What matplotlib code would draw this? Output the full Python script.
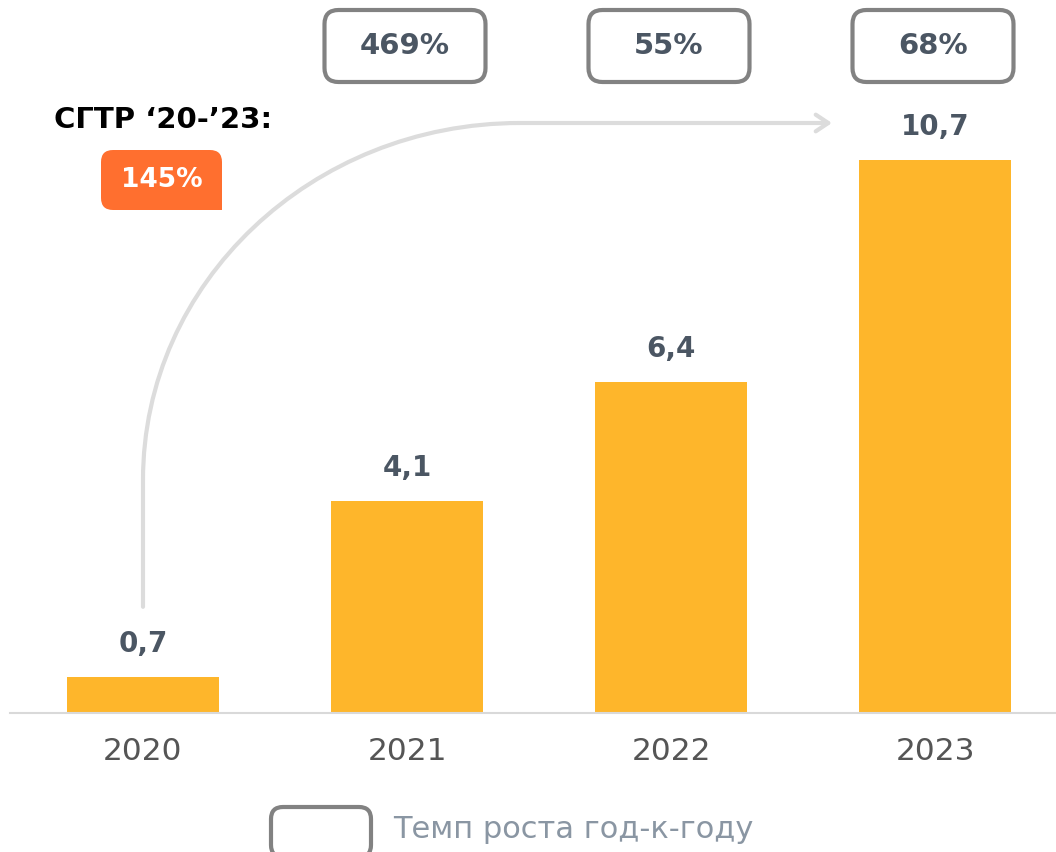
import matplotlib
matplotlib.use("Agg")
import matplotlib.pyplot as plt
from matplotlib.patches import FancyBboxPatch, Rectangle, FancyArrowPatch
from matplotlib.path import Path

plt.rcParams['font.family'] = ['DejaVu Sans']

years = ['2020', '2021', '2022', '2023']
values = [0.7, 4.1, 6.4, 10.7]
value_labels = ['0,7', '4,1', '6,4', '10,7']
yoy_labels = ['469%', '55%', '68%']
cagr_title = 'СГТР ‘20-’23:'
cagr_value = '145%'
legend_text = 'Темп роста год-к-году'

bar_color = '#FEB62B'
label_color = '#4B5663'
box_edge = '#828282'
orange = '#FF6F2F'
arrow_color = '#DCDCDC'

W, H = 1056, 852
fig = plt.figure(figsize=(W / 100, H / 100), dpi=100)
ax = fig.add_axes([10 / W, 139 / H, 1046 / W, 713 / H])

px_x = 264.0   # pixels per x unit
px_y = 51.7    # pixels per y unit
ax.set_xlim(-133 / px_x, 913 / px_x)
ax.set_ylim(0, 713 / px_y)
aspect = px_x / px_y

x = list(range(len(years)))
ax.bar(x, values, width=152 / px_x, color=bar_color, zorder=2)

for xi, v, lab in zip(x, values, value_labels):
    ax.text(xi, v + 33 / px_y, lab, ha='center', va='center', fontsize=20,
            fontweight='bold', color=label_color)

# axis styling
for s in ['top', 'right', 'left']:
    ax.spines[s].set_visible(False)
ax.spines['bottom'].set_color('#D9D9D9')
ax.spines['bottom'].set_linewidth(1.5)
ax.set_yticks([])
ax.set_xticks(x)
ax.set_xticklabels(years, fontsize=22.5, color='#555555')
ax.tick_params(axis='x', length=0, pad=17)


def rbox(cx, cy, w_px, h_px, r_px, **kw):
    w, h = w_px / px_x, h_px / px_y
    p = FancyBboxPatch((cx - w / 2, cy - h / 2), w, h,
                       boxstyle=f"round,pad=0,rounding_size={r_px / px_x}",
                       mutation_aspect=aspect, clip_on=False, **kw)
    ax.add_patch(p)
    return p


# year-over-year boxes
top_y = (713 - 46) / px_y
for xi, lab in zip(x[1:], yoy_labels):
    rbox(xi - 2 / px_x, top_y, 161, 72, 14, facecolor='white',
         edgecolor=box_edge, linewidth=3, zorder=5)
    ax.text(xi - 2 / px_x, top_y, lab, ha='center', va='center', fontsize=21,
            fontweight='bold', color=label_color, zorder=6)

# CAGR label
ax.text((163 - 143) / px_x, (713 - 120) / px_y, cagr_title, ha='center',
        va='center', fontsize=21, fontweight='bold', color='black')
ocx, ocy = (161.5 - 143) / px_x, (713 - 180) / px_y
rbox(ocx, ocy, 121, 60, 12, facecolor=orange, edgecolor='none', zorder=5)
ax.add_patch(Rectangle((ocx, ocy - 30 / px_y), 60.5 / px_x, 30 / px_y,
                       facecolor=orange, edgecolor='none', zorder=5))
ax.text(ocx, ocy, cagr_value, ha='center', va='center', fontsize=19,
        fontweight='bold', color='white', zorder=6)

# curved arrow from first bar to last bar
x0 = x[0]
y_start = values[0] + 70 / px_y
y_bend = (713 - 480) / px_y
y_top = (713 - 123) / px_y
x_corner = x0 + 377 / px_x
x_end = x[3] - 103 / px_x
k = 0.5523
verts = [(x0, y_start), (x0, y_bend),
         (x0, y_bend + k * (y_top - y_bend)),
         (x_corner - k * (x_corner - x0), y_top),
         (x_corner, y_top), (x_end, y_top)]
codes = [Path.MOVETO, Path.LINETO, Path.CURVE4, Path.CURVE4, Path.CURVE4,
         Path.LINETO]
arrow = FancyArrowPatch(path=Path(verts, codes),
                        arrowstyle='->,head_length=9,head_width=6',
                        color=arrow_color, linewidth=3, zorder=1)
ax.add_patch(arrow)

# legend
lx0, lx1 = (270 - 143) / px_x, (372 - 143) / px_x
ly_top, ly_bot = (713 - 806) / px_y, (713 - 858) / px_y
rbox((lx0 + lx1) / 2, (ly_top + ly_bot) / 2, 100, 50, 12, facecolor='white',
     edgecolor=box_edge, linewidth=3, zorder=5)
ax.text((393 - 143) / px_x, (713 - 830) / px_y, legend_text, ha='left',
        va='center', fontsize=22, color='#8A96A3', clip_on=False)

fig.savefig('out.png', dpi=100)
